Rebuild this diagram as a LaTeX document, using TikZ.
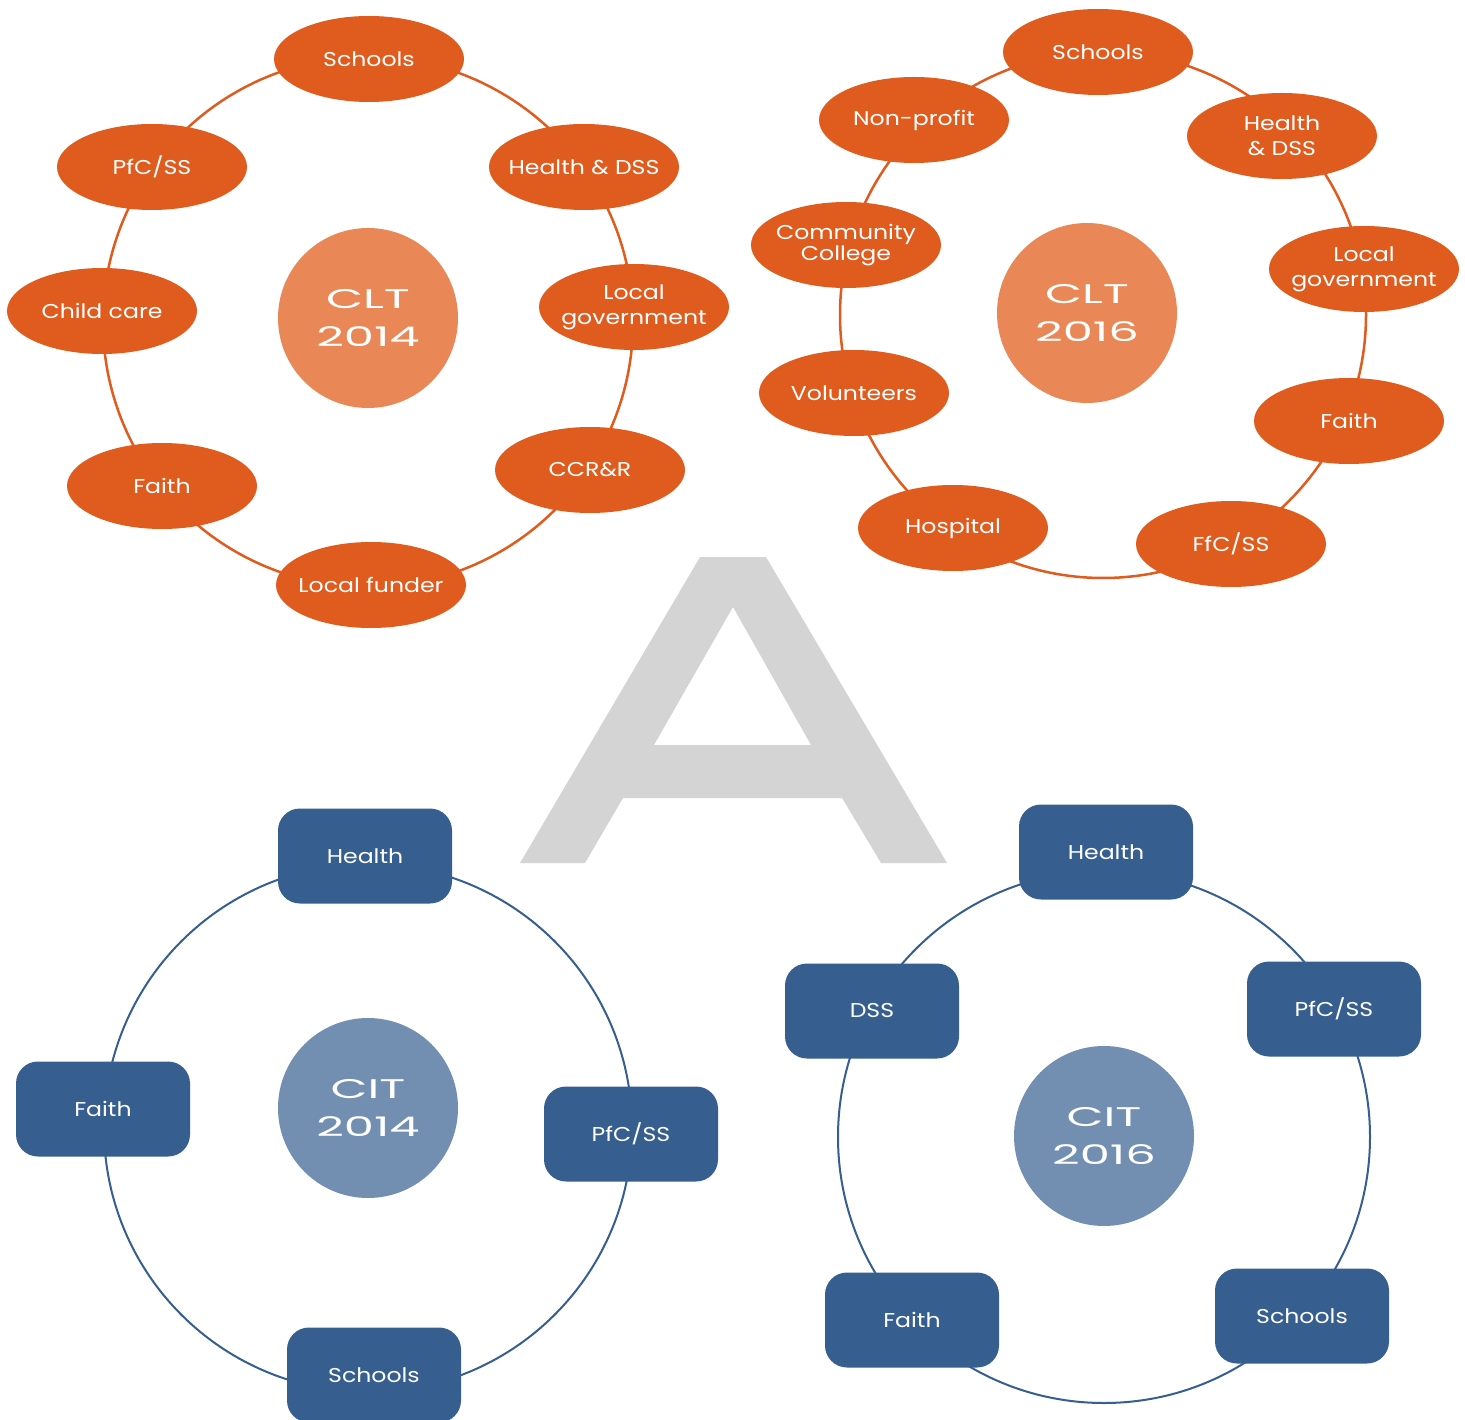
\documentclass[tikz,border=0pt]{standalone}
\usepackage{fontspec}
\setmainfont{Poppins}
\newfontfamily\labelfont[FakeStretch=1.18]{Poppins}
\newfontfamily\hubfont[FakeStretch=1.78]{Poppins}
\usetikzlibrary{shapes.geometric}
\definecolor{orangeA}{RGB}{223,91,30}
\definecolor{orangeB}{RGB}{233,136,86}
\definecolor{blueA}{RGB}{54,94,143}
\definecolor{blueB}{RGB}{114,142,177}
\definecolor{greyA}{RGB}{212,212,212}
\begin{document}
\begin{tikzpicture}[x=1pt,y=-1pt,
  oval/.style={ellipse,fill=orangeA,text=white,minimum width=190pt,minimum height=86pt,
    inner xsep=-40pt,inner ysep=0pt,align=center,font=\labelfont\fontsize{20}{25}\selectfont},
  hub/.style={circle,minimum size=180pt,inner sep=0pt,text=white,align=center,
    font=\hubfont\fontsize{27}{38}\selectfont},
  tile/.style={rectangle,rounded corners=22pt,fill=blueA,text=white,minimum width=174pt,
    minimum height=95pt,inner sep=0pt,align=center,font=\labelfont\fontsize{20}{25}\selectfont},
  orring/.style={draw=orangeA,line width=2.5pt},
  blring/.style={draw=blueA,line width=2pt}]
\useasboundingbox (0,0) rectangle (1465,1420);
\fill[white] (0,0) rectangle (1465,1420);

% large letter in the middle
\fill[greyA,even odd rule] (520,863) -- (700,557) -- (766,557) -- (947,863) -- (881,863)
  -- (842,798) -- (623,798) -- (585,863) -- cycle
  (733,607) -- (811,745) -- (654,745) -- cycle;

% ---- CLT 2014 ----
\coordinate (r1) at (368,322);
\draw[orring] (r1) circle[radius=265];
\node[hub,fill=orangeB] (clt14) at (368,318) {CLT\\2014};
\node[oval] (a1) at (369,59) {Schools};
\node[oval] (a2) at (584,167) {Health \& DSS};
\node[oval] (a3) at (634,307) {Local\\government};
\node[oval] (a4) at (590,470) {CCR\&R};
\node[oval] (a5) at (371,585) {Local funder};
\node[oval] (a6) at (162,486) {Faith};
\node[oval] (a7) at (102,311) {Child care};
\node[oval] (a8) at (152,167) {PfC/SS};

% ---- CLT 2016 ----
\coordinate (r2) at (1103,315);
\draw[orring] (r2) circle[radius=263];
\node[hub,fill=orangeB] (clt16) at (1087,313) {CLT\\2016};
\node[oval] (b1) at (1098,52) {Schools};
\node[oval] (b2) at (1282,136) {Health\\\& DSS};
\node[oval] (b3) at (1364,269) {Local\\government};
\node[oval] (b4) at (1349,421) {Faith};
\node[oval] (b5) at (1231,544) {FfC/SS};
\node[oval] (b6) at (953,528) {Hospital};
\node[oval] (b7) at (854,393) {Volunteers};
\node[oval,font=\labelfont\fontsize{20}{21}\selectfont] (b8) at (846,245) {Community\\College};
\node[oval] (b9) at (914,120) {Non-profit};

% ---- CIT 2014 ----
\coordinate (r3) at (368,1128);
\draw[blring] (r3) circle[radius=264];
\node[hub,fill=blueB] (cit14) at (368,1108) {CIT\\2014};
\node[tile] (c1) at (365,856) {Health};
\node[tile] (c2) at (631,1134) {PfC/SS};
\node[tile] (c3) at (374,1375) {Schools};
\node[tile] (c4) at (103,1109) {Faith};

% ---- CIT 2016 ----
\coordinate (r4) at (1104,1137);
\draw[blring] (r4) circle[radius=266];
\node[hub,fill=blueB] (cit16) at (1104,1136) {CIT\\2016};
\node[tile] (d1) at (1106,852) {Health};
\node[tile] (d2) at (1334,1009) {PfC/SS};
\node[tile] (d3) at (1302,1316) {Schools};
\node[tile] (d4) at (912,1320) {Faith};
\node[tile] (d5) at (872,1011) {DSS};
\end{tikzpicture}
\end{document}
